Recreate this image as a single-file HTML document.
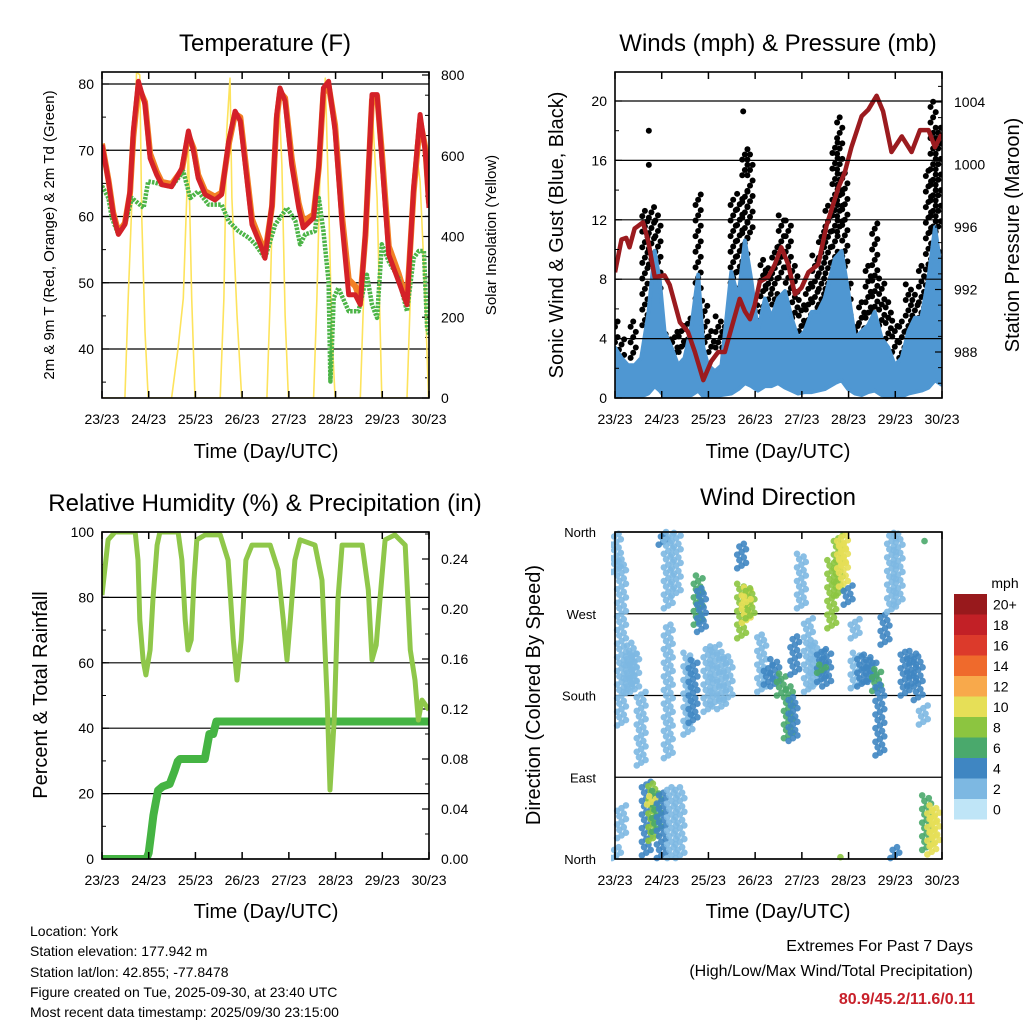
<!DOCTYPE html>
<html><head><meta charset="utf-8"><style>
html,body{margin:0;padding:0;background:#fff;}
svg{display:block;font-family:"Liberation Sans",Arial,sans-serif;}
</style></head><body>
<svg id="fig" width="1024" height="1024" viewBox="0 0 1024 1024" xmlns="http://www.w3.org/2000/svg">
<rect width="1024" height="1024" fill="#fff"/>
<g id="layer"></g>
<text x="265" y="51" font-size="24" text-anchor="middle">Temperature (F)</text>
<text x="778" y="51" font-size="24" text-anchor="middle">Winds (mph) &amp; Pressure (mb)</text>
<text x="265" y="511" font-size="24" text-anchor="middle">Relative Humidity (%) &amp; Precipitation (in)</text>
<text x="778" y="505" font-size="24" text-anchor="middle">Wind Direction</text>
<text transform="translate(54,235) rotate(-90)" font-size="15" text-anchor="middle">2m &amp; 9m T (Red, Orange) &amp; 2m Td (Green)</text>
<text transform="translate(496,235) rotate(-90)" font-size="15" text-anchor="middle">Solar Insolation (Yellow)</text>
<text transform="translate(563,235) rotate(-90)" font-size="20" text-anchor="middle">Sonic Wind &amp; Gust (Blue, Black)</text>
<text transform="translate(1019,235) rotate(-90)" font-size="20" text-anchor="middle">Station Pressure (Maroon)</text>
<text transform="translate(47,695) rotate(-90)" font-size="20" text-anchor="middle">Percent &amp; Total Rainfall</text>
<text transform="translate(540,695) rotate(-90)" font-size="20" text-anchor="middle">Direction (Colored By Speed)</text>
<text x="266" y="458" font-size="20" text-anchor="middle">Time (Day/UTC)</text>
<text x="778" y="458" font-size="20" text-anchor="middle">Time (Day/UTC)</text>
<text x="266" y="918" font-size="20" text-anchor="middle">Time (Day/UTC)</text>
<text x="778" y="918" font-size="20" text-anchor="middle">Time (Day/UTC)</text>
<text x="1005" y="588" font-size="14" text-anchor="middle">mph</text>
<g font-size="14">
<text x="30" y="936">Location: York</text>
<text x="30" y="956">Station elevation: 177.942 m</text>
<text x="30" y="977">Station lat/lon: 42.855; -77.8478</text>
<text x="30" y="997">Figure created on Tue, 2025-09-30, at 23:40 UTC</text>
<text x="30" y="1017">Most recent data timestamp: 2025/09/30 23:15:00</text>
</g>
<text x="973" y="951" font-size="16" text-anchor="end">Extremes For Past 7 Days</text>
<text x="973" y="976" font-size="16" text-anchor="end">(High/Low/Max Wind/Total Precipitation)</text>
<text x="975" y="1004" font-size="16" font-weight="bold" fill="#c8202a" text-anchor="end">80.9/45.2/11.6/0.11</text>
</svg>
<script>
// ---------- DATA ----------
const dayTicks = [23,24,25,26,27,28,29,30];
const dayLabels = ["23/23","24/23","25/23","26/23","27/23","28/23","29/23","30/23"];
const tempTicks = [80,70,60,50,40];
const solarTicks = [800,600,400,200,0];
const windTicks = [20,16,12,8,4,0];
const presTicks = [1004,1000,996,992,988];
const rhTicks = [100,80,60,40,20,0];
const precipTicks = [0.24,0.20,0.16,0.12,0.08,0.04,0.00];
const dirTicks = [0,90,180,270,360];
const dirLabels = ["North","East","South","West","North"];
const speedBins = [0,2,4,6,8,10,12,14,16,18,20];
const speedBinLabels = ["0","2","4","6","8","10","12","14","16","18","20+"];
const speedColors = ["#bfe5f7","#7db8e2","#3f86c2","#4aa96c","#8cc540","#e6df57","#f8a94b","#ef6a2c","#dc3a2b","#c22026","#98191c"];

const tempDays = [23.0,23.14,23.24,23.35,23.49,23.6,23.67,23.78,23.92,24.03,24.17,24.28,24.49,24.71,24.85,24.96,25.06,25.21,25.42,25.56,25.71,25.85,25.96,26.06,26.21,26.42,26.49,26.64,26.74,26.81,26.92,27.06,27.21,27.31,27.53,27.64,27.74,27.85,27.99,28.14,28.28,28.42,28.53,28.64,28.78,28.89,28.99,29.14,29.35,29.53,29.67,29.81,29.92,30.0];
const temp2m = [70.8,65.3,60.3,57.3,58.8,63.8,72.9,80.4,76.9,68.8,66.3,64.8,64.5,67.3,72.9,69.8,65.8,63.3,62.5,63.3,71.3,75.9,74.4,68.3,58.8,55.2,53.7,61.8,75.4,79.4,77.4,67.8,61.3,58.3,59.8,67.8,79.4,80.4,72.9,58.8,48.2,48.2,46.7,57.8,78.4,78.4,68.8,54.2,50.2,46.7,64.3,75.4,69.8,61.3];
const temp9m = [71.0,65.5,60.6,57.6,59.0,63.5,72.0,79.6,77.3,69.5,66.8,65.2,64.9,67.0,72.3,70.3,66.3,63.8,63.0,63.6,70.8,75.5,75.0,69.0,59.6,55.8,54.3,61.5,74.8,78.8,77.9,68.8,62.0,59.3,60.3,67.3,78.6,79.8,73.8,60.0,50.5,49.5,47.5,57.2,77.6,78.2,69.8,55.5,51.4,47.2,63.6,74.5,70.4,62.0];
const dewDays = [23.0,23.14,23.21,23.35,23.49,23.64,23.89,23.99,24.14,24.28,24.49,24.74,24.89,25.06,25.28,25.56,25.71,25.92,26.14,26.28,26.49,26.71,26.96,27.14,27.24,27.35,27.56,27.64,27.74,27.85,27.89,27.92,27.96,28.06,28.28,28.49,28.67,28.78,28.89,28.99,29.14,29.35,29.53,29.67,29.78,29.89,29.96,30.0];
const dewVals = [64.6,62.8,59.8,57.3,58.8,62.8,61.3,65.3,65.1,64.8,64.5,66.8,62.8,63.8,61.8,61.8,59.3,57.8,56.8,55.8,53.7,58.8,61.3,59.3,55.8,57.3,57.8,62.8,57.8,50.2,35.1,40.0,47.7,49.2,45.7,45.7,51.2,46.7,44.7,55.8,53.2,50.7,45.7,53.7,54.8,54.8,43.2,42.2];
const solarDays = [23.0,23.49,23.56,23.67,23.74,23.81,23.85,23.92,23.99,24.49,24.63,24.74,24.85,24.92,24.99,25.53,25.61,25.67,25.74,25.78,25.89,25.99,26.53,26.6,26.67,26.78,26.85,26.92,26.99,27.53,27.6,27.67,27.78,27.85,27.92,27.99,28.53,28.6,28.71,28.78,28.89,28.99,29.53,29.6,29.71,29.81,29.92,29.99];
const solarVals = [0,0,247,577,808,800,454,165,0,0,124,247,619,247,0,0,247,660,792,495,206,0,0,247,577,759,577,206,0,0,247,577,792,495,165,0,0,247,660,726,495,0,0,247,627,536,247,0];

const windDays = [23.0,23.14,23.28,23.42,23.56,23.71,23.85,23.96,24.06,24.21,24.35,24.49,24.64,24.78,24.89,24.99,25.14,25.28,25.49,25.64,25.78,25.92,26.06,26.21,26.35,26.49,26.64,26.78,26.92,27.06,27.21,27.35,27.49,27.71,27.85,27.99,28.14,28.28,28.42,28.56,28.71,28.85,28.99,29.14,29.28,29.42,29.56,29.71,29.85,29.99];
const windHi = [3.4,2.7,2.2,2.2,2.7,5.6,9.9,7.9,4.5,3.4,2.2,2.7,4.9,8.3,3.4,2.2,1.8,2.2,8.5,6.7,10.6,7.9,4.5,6.7,5.4,6.7,7.2,5.4,4.0,4.5,5.8,5.8,6.7,9.4,9.9,7.2,4.0,4.5,4.9,5.8,4.0,3.4,2.2,2.7,4.5,5.4,5.4,8.1,11.5,8.5];
const windLo = [0.2,0.1,0,0.1,0.1,0.3,0.8,0.5,0.1,0,0,0.1,0.2,0.5,0.1,0.1,0.1,0.2,0.3,0.6,1.0,0.8,0.5,0.8,0.8,1.0,0.7,0.5,0.3,0.4,0.4,0.5,0.6,1.0,1.2,0.6,0.3,0.2,0.4,0.5,0.2,0.1,0.1,0.1,0.3,0.4,0.5,0.7,1.2,0.9];
const gustDays = [23.0,23.14,23.39,23.64,23.78,23.78,23.78,23.92,24.14,24.28,24.42,24.56,24.78,24.92,25.06,25.21,25.35,25.53,25.67,25.78,25.78,25.8,25.89,25.99,26.17,26.28,26.42,26.56,26.71,26.85,26.99,27.14,27.28,27.42,27.56,27.71,27.81,27.92,27.99,28.14,28.28,28.42,28.56,28.71,28.85,28.99,29.14,29.28,29.42,29.56,29.71,29.81,29.92,29.99];
const gustLo = [3.4,2.2,2.7,4.9,9.0,15.7,18.0,6.7,2.2,2.7,3.1,3.6,6.7,3.4,3.1,3.4,3.4,6.7,8.5,9.0,15.0,19.3,10.8,4.5,5.8,6.3,6.3,8.1,6.7,5.4,4.5,4.9,5.4,6.3,6.3,8.1,11.2,8.5,4.9,3.1,4.0,5.4,5.8,4.9,4.0,3.1,2.7,4.5,4.5,5.4,7.6,11.2,11.2,6.7];
const gustHi = [5.6,4.0,5.4,12.8,13.0,15.9,18.0,12.4,4.5,4.5,4.9,5.4,13.9,6.7,4.5,5.6,5.4,13.5,13.9,14.0,16.9,19.3,16.6,6.7,9.4,9.0,10.3,12.6,12.1,9.0,6.7,7.9,9.9,11.2,13.0,17.3,19.1,15.3,7.9,4.9,6.7,9.0,11.9,8.1,6.7,5.4,5.4,7.9,7.2,9.0,15.3,20.2,18.4,9.9];
const presDays = [23.0,23.14,23.24,23.31,23.42,23.6,23.71,23.85,24.06,24.17,24.39,24.56,24.71,24.89,25.06,25.21,25.35,25.49,25.67,25.78,25.89,25.99,26.1,26.28,26.42,26.56,26.71,26.85,26.99,27.14,27.35,27.53,27.78,27.92,28.06,28.28,28.42,28.6,28.74,28.92,29.14,29.35,29.53,29.71,29.85,30.0];
const presVals = [993.1,995.2,995.3,994.7,995.9,996.3,995.1,992.8,992.9,992.3,989.9,989.3,988.0,986.2,987.4,988.0,988.0,989.5,991.4,990.6,990.1,991.0,992.5,992.8,993.6,994.7,993.6,991.7,992.1,993.1,993.6,996.1,998.5,999.5,1001.1,1003.1,1003.5,1004.4,1003.4,1000.8,1001.8,1000.8,1002.2,1002.2,1001.1,1002.0];

const rhDays = [23.0,23.13,23.28,23.6,23.71,23.77,23.81,23.88,23.94,24.03,24.09,24.18,24.24,24.63,24.71,24.78,24.84,24.91,24.97,25.03,25.21,25.53,25.7,25.81,25.89,25.98,26.08,26.21,26.6,26.77,26.88,26.96,27.03,27.13,27.24,27.56,27.71,27.82,27.88,27.97,28.05,28.14,28.57,28.7,28.78,28.87,28.95,29.06,29.27,29.49,29.6,29.7,29.77,29.85,30.0];
const rhVals = [80.7,97.6,100,100,100,91.4,73.1,60.9,56.3,63.9,79.2,96,100,100,91.4,73.1,63.9,67,85.3,97.6,99.1,99.1,91.4,67,54.7,67,91.4,96,96,88.4,73.1,60.9,73.1,91.4,97.6,96,85.3,48.6,21.1,42.5,79.2,96,96,82.3,60.9,65.4,79.2,97.6,99.1,96,63.9,54.7,42.5,48.6,45.6];
const precipDays = [23.0,23.95,24.0,24.05,24.1,24.15,24.2,24.3,24.45,24.55,24.62,24.67,25.2,25.25,25.3,25.38,25.45,30.0];
const precipVals = [0,0,0.005,0.02,0.035,0.045,0.055,0.058,0.06,0.07,0.078,0.08,0.08,0.09,0.1,0.1,0.11,0.11];

// direction streaks: day, lowest direction (deg), highest direction (deg), speed (mph)
const dirDays = [23.03,23.14,23.28,23.35,23.42,23.56,23.03,23.14,23.67,23.81,23.89,23.78,23.99,24.03,24.14,24.31,24.21,24.39,24.14,24.56,24.67,24.78,24.85,24.99,25.14,25.28,25.42,25.71,25.81,25.89,25.81,25.71,26.14,26.28,26.42,26.56,26.71,26.81,26.85,26.99,27.14,27.28,27.42,27.53,27.42,27.64,27.78,27.89,27.85,27.99,28.14,28.14,28.28,28.42,28.5,28.6,28.67,28.78,28.92,29.06,28.99,29.21,29.35,29.49,29.6,29.67,29.78,29.85,29.72,27.92];
const dirLo = [316,147,184,190,184,103,1,23,4,20,30,60,1,346,276,290,1,1,111,137,150,258,250,162,170,165,175,243,260,265,280,320,184,192,190,180,133,130,203,276,184,190,195,190,205,254,290,300,320,280,243,188,190,195,195,185,114,236,272,280,1,180,190,175,148,10,5,15,350,2];
const dirHi = [360,331,228,240,228,184,15,59,85,85,75,70,74,360,360,360,81,81,258,228,220,313,300,236,236,230,225,305,300,300,290,349,247,214,220,205,192,180,247,338,265,240,232,230,215,330,357,357,350,302,265,228,225,225,220,210,192,269,360,360,15,228,230,225,170,70,60,55,352,3];
const dirSpd = [2,1,2,2,2,1,1,1,4,8,6,10,3,3,2,1,1,1,1,2,3,6,4,2,2,2,2,7,9,8,10,3,2,4,4,5,5,3,3,2,2,2,4,4,6,7,8,9,10,3,2,2,3,3,3,6,3,3,2,1,3,3,4,3,1,6,9,10,6,7];

// ---------- RENDER ----------
const NS = "http://www.w3.org/2000/svg";
const layer = document.getElementById("layer");
function mk(tag, attrs, parent) {
  const e = document.createElementNS(NS, tag);
  for (const k in attrs) e.setAttribute(k, attrs[k]);
  (parent || layer).appendChild(e);
  return e;
}
const L = {x0:102, x1:429}, R = {x0:615, x1:942};
const TOP = {y0:72, y1:398}, BOT = {y0:532, y1:859};
function xs(p, d) { return p.x0 + (d - 23) * (p.x1 - p.x0) / 7; }
function tY(v) { return 84 + (80 - v) * 6.625; }
function sY(v) { return 398 - v * 0.40375; }
function wY(v) { return 398 - v * 14.85; }
function pY(v) { return 102 + (1004 - v) * 15.625; }
function hY(v) { return 859 - v * 3.27; }
function rY(v) { return 859 - v * 1250; }
function dY(v) { return 859 - v * 327 / 360; }
function pathFrom(p, days, vals, yf) {
  return days.map((d, i) => (i ? "L" : "M") + xs(p, d).toFixed(1) + "," + yf(vals[i]).toFixed(1)).join("");
}
function spdColor(s) {
  let idx = Math.min(10, Math.max(0, Math.round(s / 2)));
  return speedColors[idx];
}
function xAxis(p, box, name) {
  const g = mk("g", {});
  
  
  dayTicks.forEach((d, i) => {
    const x = xs(p, d);
    const t1 = mk("line", {x1:x, x2:x, y1:box.y1, y2:box.y1-7, stroke:"#000", "stroke-width":1.5}, g);
    
    
    const t2 = mk("line", {x1:x, x2:x, y1:box.y0, y2:box.y0+7, stroke:"#000", "stroke-width":1.5}, g);
    
    
    const tx = mk("text", {x:x, y:box.y1+26, "font-size":14, "text-anchor":"middle"}, g);
    
    
    tx.textContent = dayLabels[i];
  });
}
function yAxis(p, box, ticks, yf, labels, side, gridOn, minorStep, name, fs) {
  const g = mk("g", {});
  
  
  const xe = side === "left" ? p.x0 : p.x1;
  const dir = side === "left" ? 1 : -1;
  ticks.forEach((v, i) => {
    const y = yf(v);
    if (gridOn) {
      const gl = mk("line", {x1:p.x0, x2:p.x1, y1:y, y2:y, stroke:"#000", "stroke-width":1.2}, g);
      
      
    }
    const tk = mk("line", {x1:xe, x2:xe+dir*7, y1:y, y2:y, stroke:"#000", "stroke-width":1.2}, g);
    
    
    const tx = mk("text", {x: side==="left" ? xe-8 : xe+12, y:y+5, "font-size":fs||14, "text-anchor": side==="left" ? "end" : "start"}, g);
    
    
    tx.textContent = labels ? labels[i] : String(v);
  });
  if (minorStep) {
    const lo = Math.min(...ticks), hi = Math.max(...ticks);
    for (let v = lo - minorStep*6; v <= hi + minorStep*6 + 1e-9; v += minorStep) {
      const y = yf(v);
      if (y < box.y0 || y > box.y1) continue;
      const mt = mk("line", {x1:xe, x2:xe+dir*4, y1:y, y2:y, stroke:"#000", "stroke-width":1}, g);
      
      
    }
  }
}
function border(p, box, name) {
  const r = mk("rect", {x:p.x0, y:box.y0, width:p.x1-p.x0, height:box.y1-box.y0, fill:"none", stroke:"#000", "stroke-width":1.6});
  
  
}

const clip1 = mk("clipPath", {id:"c1"}); mk("rect", {x:L.x0, y:TOP.y0, width:L.x1-L.x0, height:TOP.y1-TOP.y0}, clip1);
const clip2 = mk("clipPath", {id:"c2"}); mk("rect", {x:R.x0, y:TOP.y0, width:R.x1-R.x0, height:TOP.y1-TOP.y0}, clip2);
const clip3 = mk("clipPath", {id:"c3"}); mk("rect", {x:L.x0, y:BOT.y0, width:L.x1-L.x0, height:BOT.y1-BOT.y0}, clip3);
const clip4 = mk("clipPath", {id:"c4"}); mk("rect", {x:R.x0-4, y:BOT.y0-4, width:R.x1-R.x0+8, height:BOT.y1-BOT.y0+8}, clip4);

// ----- Panel 1: temperature -----
yAxis(L, TOP, tempTicks, tY, null, "left", true, 5, "temperature-y-axis");
yAxis(L, TOP, solarTicks, sY, null, "right", false, 50, "solar-y-axis");
const g1 = mk("g", {"clip-path":"url(#c1)"});


const solar = mk("path", {d:pathFrom(L, solarDays, solarVals, sY), fill:"none", stroke:"#fde35c", "stroke-width":1.6, "stroke-linejoin":"round"}, g1);


const t9 = mk("path", {d:pathFrom(L, tempDays, temp9m, tY), fill:"none", stroke:"#f28024", "stroke-width":6, "stroke-linejoin":"round"}, g1);


const dew = mk("path", {d:pathFrom(L, dewDays, dewVals, tY), fill:"none", stroke:"#4cb447", "stroke-width":4.5, "stroke-dasharray":"2.5 1.2", "stroke-linejoin":"round"}, g1);


const t2 = mk("path", {d:pathFrom(L, tempDays, temp2m, tY), fill:"none", stroke:"#d42128", "stroke-width":5, "stroke-linejoin":"round"}, g1);


xAxis(L, TOP, "temperature-x-axis");
border(L, TOP, "temperature-frame");

// ----- Panel 2: winds -----
const g2 = mk("g", {"clip-path":"url(#c2)"});


gustDays.forEach((d, i) => {
  let k = 0;
  for (let v = gustLo[i]; v <= gustHi[i] + 0.01; v += 0.35) {
    const c = mk("circle", {cx: xs(R, d) + ((k % 3) - 1) * 2.6, cy: wY(v), r: 3, fill:"#000"}, g2);
    
    
    k++;
  }
});
const band = windDays.map((d, i) => xs(R, d).toFixed(1) + "," + wY(windHi[i]).toFixed(1)).concat(
  windDays.slice().reverse().map((d, j) => { const i = windDays.length - 1 - j; return xs(R, d).toFixed(1) + "," + wY(windLo[i]).toFixed(1); }));
const wb = mk("polygon", {points: band.join(" "), fill:"#4f97d2", stroke:"#4f97d2", "stroke-width":4, "stroke-linejoin":"round"}, g2);


const pl = mk("path", {d:pathFrom(R, presDays, presVals, pY), fill:"none", stroke:"#9b1b1f", "stroke-width":4.5, "stroke-linejoin":"round"}, g2);


yAxis(R, TOP, windTicks, wY, null, "left", true, 2, "wind-y-axis");
yAxis(R, TOP, presTicks, pY, null, "right", false, 1, "pressure-y-axis");
xAxis(R, TOP, "winds-x-axis");
border(R, TOP, "winds-frame");

// ----- Panel 3: humidity -----
yAxis(L, BOT, rhTicks, hY, null, "left", true, 10, "humidity-y-axis");
yAxis(L, BOT, precipTicks, rY, precipTicks.map(v => v.toFixed(2)), "right", false, 0.02, "precip-y-axis");
const g3 = mk("g", {"clip-path":"url(#c3)"});


const pr = mk("path", {d:pathFrom(L, precipDays, precipVals, rY), fill:"none", stroke:"#45b443", "stroke-width":8, "stroke-linejoin":"round", "stroke-linecap":"round"}, g3);


const rh = mk("path", {d:pathFrom(L, rhDays, rhVals, hY), fill:"none", stroke:"#8fc74a", "stroke-width":5, "stroke-linejoin":"round"}, g3);


xAxis(L, BOT, "humidity-x-axis");
border(L, BOT, "humidity-frame");

// ----- Panel 4: wind direction -----
const gd = mk("g", {});


dirTicks.forEach((v, i) => {
  const y = dY(v);
  const gl = mk("line", {x1:R.x0, x2:R.x1, y1:y, y2:y, stroke:"#000", "stroke-width":1.2}, gd);
  
  
  const tx = mk("text", {x:R.x0-19, y:y+5, "font-size":13, "text-anchor":"end"}, gd);
  
  
  tx.textContent = dirLabels[i];
});
const g4 = mk("g", {"clip-path":"url(#c4)"});


dirDays.forEach((d, i) => {
  let k = 0;
  for (let v = dirLo[i]; v <= dirHi[i] + 0.01; v += 3) {
    const c = mk("circle", {cx: xs(R, d) + ((k * 2 % 5) - 2) * 2.2, cy: dY(v), r: 3.3, fill: spdColor(dirSpd[i]), "fill-opacity":0.9}, g4);
    
    
    k++;
  }
});
xAxis(R, BOT, "direction-x-axis");
border(R, BOT, "direction-frame");

// colorbar
const cb = mk("g", {});


const bh = 20.5, by0 = 594;
speedBins.forEach((s, i) => {
  const j = speedBins.length - 1 - i;
  const y = by0 + j * bh;
  const r = mk("rect", {x:954, y:y, width:33, height:bh, fill:speedColors[i]}, cb);
  
  
  const t = mk("text", {x:993, y:y+bh/2+5, "font-size":14}, cb);
  
  
  t.textContent = speedBinLabels[i];
});
</script>
</body></html>
